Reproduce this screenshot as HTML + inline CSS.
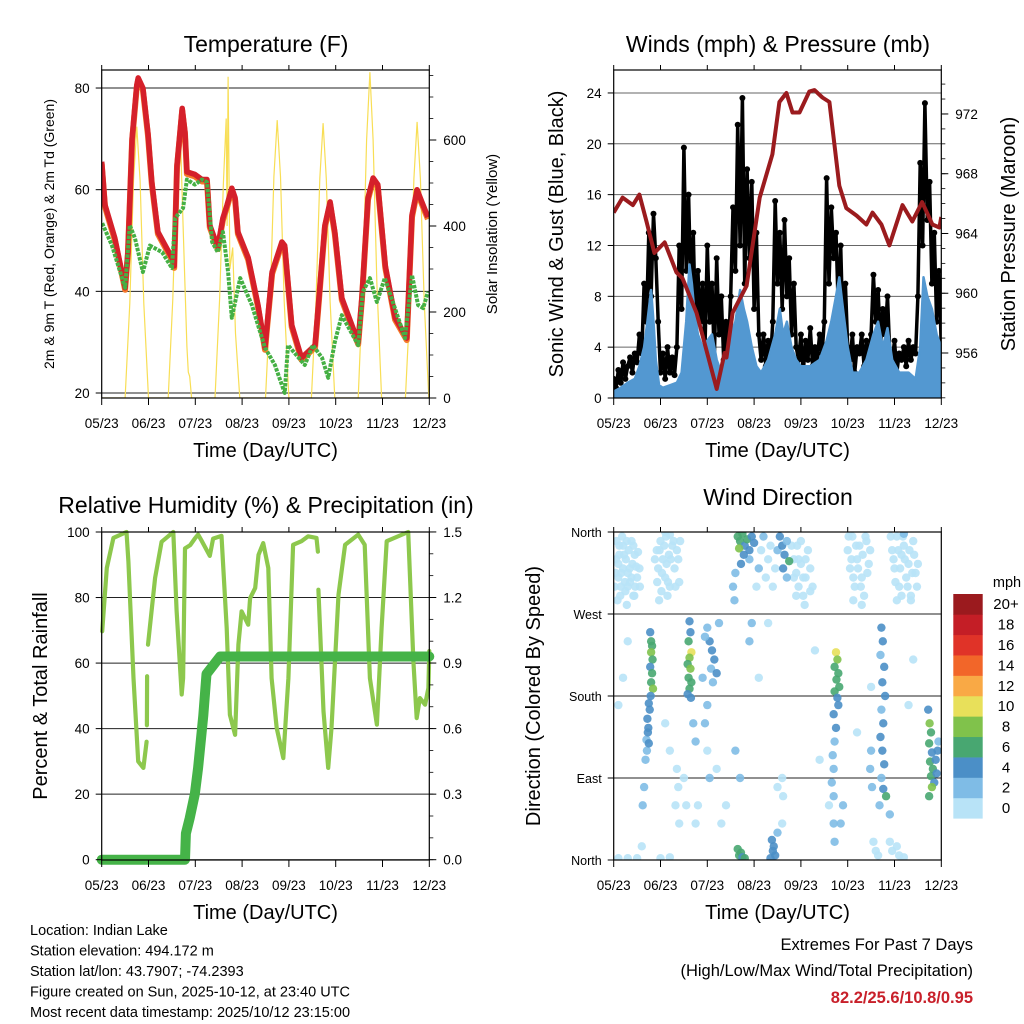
<!DOCTYPE html>
<html>
<head>
<meta charset="utf-8">
<style>
  html,body{margin:0;padding:0;background:#fff;}
  svg{display:block;font-family:"Liberation Sans",Arial,sans-serif;}
  text{fill:#000;}
</style>
</head>
<body>
<svg id="chart" xmlns="http://www.w3.org/2000/svg" width="1024" height="1024" viewBox="0 0 1024 1024">
  <rect x="0" y="0" width="1024" height="1024" fill="#fff"/>
</svg>
<script>
// ---------- shared axis labels ----------
const monthLabels = ['05/23','06/23','07/23','08/23','09/23','10/23','11/23','12/23'];

// ---------- Temperature panel data (t in months since 05/23) ----------
const tempT = [0,0.07,0.28,0.50,0.56,0.65,0.75,0.78,0.88,0.99,1.07,1.20,1.50,1.55,1.61,1.72,1.78,1.82,1.99,2.14,2.25,2.31,2.48,2.59,2.68,2.78,2.85,2.91,3.13,3.34,3.49,3.64,3.85,3.91,4.06,4.27,4.56,4.77,4.88,4.98,5.13,5.48,5.56,5.69,5.80,5.90,6.06,6.27,6.52,6.63,6.74,6.84,6.97];
const temp2m = [65.5,57,50.5,40.7,47.7,70,80.6,82,80,71,61.5,51.7,46.6,45,64.8,76,71.3,63.5,63,62,62,53,48.7,54.4,57,60.3,58.4,51.7,46.6,37.3,28.9,43.8,49.7,49,33.4,26.9,29.4,53,57.6,51.7,38.7,30,38.7,58.4,62.3,61,45,34.8,30.8,55,60,57.6,54.6];
const dewT = [0.01,0.22,0.50,0.60,0.71,0.88,1.03,1.29,1.50,1.57,1.74,1.82,1.99,2.14,2.25,2.36,2.48,2.59,2.70,2.78,2.96,3.21,3.49,3.70,3.91,3.98,4.34,4.51,4.71,4.84,4.98,5.13,5.48,5.58,5.73,5.88,6.05,6.48,6.63,6.76,6.87,6.97];
const dew2m = [53.4,49,40.7,53,50.5,43.8,49,47.7,44.6,54.4,56.4,62,61,62,61.5,49.7,47.7,51.7,43.8,34.8,42.6,37.3,28.9,25.5,20,29.4,25.5,29.4,26.9,23,30,35.3,29.4,39.9,42.6,37.9,42.6,30.8,43.2,37.3,36.7,39.9];
const solarT = [0,0.50,0.60,0.68,0.75,0.82,0.90,1.00, 1.42,1.52,1.60,1.67,1.74,1.82,1.85,1.88,1.92, 2.42,2.52,2.60,2.66,2.68,2.70,2.74,2.80,2.86,2.95, 3.50,3.60,3.68,3.75,3.82,3.90,4.00, 4.48,4.58,4.66,4.73,4.80,4.88,4.98, 5.48,5.58,5.66,5.73,5.80,5.88,5.98, 6.49,6.59,6.67,6.74,6.81,6.89,6.99];
const solarV = [0,0,220,505,631,505,220,0, 0,230,520,651,400,120,60,50,0, 0,230,500,650,400,747,300,350,150,0, 0,225,515,646,515,225,0, 0,225,510,639,510,225,0, 0,265,600,758,600,265,0, 0,225,510,642,510,225,0];
const tempTicks = [20,40,60,80];
const solarTicks = [0,200,400,600];

// ---------- Winds panel data ----------
const windT = [0,0.15,0.3,0.45,0.55,0.65,0.72,0.8,0.85,0.9,0.97,1.05,1.2,1.35,1.45,1.55,1.62,1.67,1.72,1.8,1.9,2.0,2.1,2.2,2.3,2.4,2.5,2.6,2.7,2.78,2.85,2.95,3.05,3.15,3.3,3.45,3.55,3.62,3.7,3.8,3.9,4.0,4.2,4.4,4.55,4.65,4.75,4.82,4.9,5.0,5.1,5.25,5.4,5.55,5.65,5.75,5.85,5.95,6.1,6.3,6.45,6.55,6.62,6.7,6.8,6.9,7.0];
const windV = [0.5,0.8,1.2,1.5,2.5,4,6,8.5,6,3,1,0.8,1,1.2,2,6,10.5,9,7,5,4,4.5,5,3,2,3,5,6,8.5,7,6,4,2.5,2,3,5,7,5,6,4,3,2.5,2.5,3,4.5,6,8,9.5,7,4,2,2,3,5,6,4,5.5,3,2,2,1.5,4,9.5,8,7,5,4];
const gustV = [1.5,0.8,2.2,1.2,2.8,1.5,2.5,3.2,2,3.5,2.8,
  5,3.5,9,6,13,8,14.5,11,6,
  2,3.5,1.5,4,2,3.2,1.8,
  4,12,7,19.7,10,16,8,13,5,10,6,9,
  4,12,6,9,3,11,5,8,3,6,3.5,
  8,15,10,21.5,12,23.6,9,18,11,17,7,13,5,
  3,5,2.5,4.5,3,
  6,15.5,9,13,7,14,8,11,5,9,4,
  3,5,2,4.5,3,5.5,2.5,4,3,5,3.5,
  6,17.3,9,15,11,13,7,12,5,9,4,
  3,5,2,4,3.5,5,2.5,4.5,3,
  5,9.7,6,8.5,4,7,5,8,3.5,
  3,4.5,2,3.5,3,4,2.5,4.5,3,4,3.5,
  8,18.5,12,23.2,14,17,9,13,6,10,4];
const pressT = [0,0.19,0.41,0.55,0.70,0.87,1.09,1.34,1.47,1.77,2.20,2.37,2.41,2.54,2.84,3.12,3.39,3.54,3.69,3.82,3.97,4.18,4.29,4.46,4.61,4.82,4.97,5.19,5.40,5.53,5.72,5.89,6.17,6.38,6.59,6.81,6.96,7.0];
const pressV = [965.4,966.4,965.9,966.6,964.8,962.7,963.4,961.4,961,958.7,953.6,956,955.7,958.7,960.5,966.4,969.3,972.8,973.4,972.1,972.1,973.5,973.6,973.1,972.8,967.2,965.7,965.2,964.6,965.4,964.6,963.2,965.9,964.8,966.1,964.6,964.4,965.1];
const windTicks = [0,4,8,12,16,20,24];
const pressTicks = [956,960,964,968,972];

// ---------- RH / precip panel data ----------
const rhT = [0.01,0.11,0.25,0.53,0.57,0.68,0.78,0.89,0.96,null,0.965,0.97,null,0.99,1.14,1.28,1.53,1.60,1.71,1.74,1.78,1.89,1.99,2.06,2.14,2.31,2.38,2.56,2.67,2.74,2.85,2.92,2.99,3.13,3.17,3.28,3.35,3.45,3.56,3.63,3.74,3.88,3.99,4.09,4.27,4.41,4.59,4.62,null,4.63,4.74,4.84,4.91,5.06,5.20,5.48,5.62,5.73,5.88,5.98,6.09,6.55,6.66,6.73,6.80,6.91,6.98,7.0];
const rhV = [69.7,89,98.2,100,91,55.4,30,28,36,null,41,56,null,65.6,86,97,100,76,50.4,55.4,95,96,98,99.2,97.2,92.7,98,98.8,70.7,44.2,38.1,65.6,75.8,71.7,79.8,82.9,93,96.6,89,55.4,40.2,31,55.4,96.1,97.2,98.7,98.2,94,null,82.4,45.3,28,40.2,80.9,96.1,99.2,96.1,55.4,41.2,70.7,97.2,100,60.5,43.2,49.3,47.3,52.4,63.7];
const precipT = [0,1.78,1.80,1.88,1.99,2.06,2.17,2.24,2.42,2.53,7.0];
const precipV = [0,0,0.12,0.19,0.30,0.42,0.66,0.85,0.90,0.93,0.93];
const rhTicks = [0,20,40,60,80,100];
const precipTicks = ['0.0','0.3','0.6','0.9','1.2','1.5'];

// ---------- Wind direction panel data: [t, direction deg, speed mph] ----------
const dirObs = [
 [0.05,330,1],[0.1,310,1],[0.12,345,1],[0.15,300,1],[0.2,320,1],[0.22,335,1],[0.25,295,1],[0.3,315,1],[0.32,340,1],[0.35,305,1],[0.4,325,1],[0.42,290,1],[0.45,335,1],[0.5,310,1],[0.55,320,1],[0.18,355,1],[0.08,285,1],[0.38,350,1],[0.28,280,1],
 [0.92,340,1],[0.95,320,1],[1.0,350,1],[1.05,330,1],[1.1,310,1],[1.12,355,1],[1.18,335,1],[1.2,300,1],[1.25,345,1],[1.3,320,1],[1.35,340,1],[1.4,305,1],[1.02,295,1],[1.15,290,1],
 [0.78,250,4],[0.8,240,7],[0.82,235,6],[0.8,228,8],[0.83,220,6],[0.78,212,5],[0.82,205,7],[0.8,195,6],[0.84,188,8],[0.79,180,4],[0.75,172,4],[0.77,165,5],[0.72,155,4],[0.74,145,4],[0.7,132,3],[0.71,120,3],[0.68,110,2],[0.73,140,5],[0.75,128,4],
 [1.62,262,4],[1.64,250,4],[1.6,240,6],[1.66,228,10],[1.62,222,8],[1.58,215,7],[1.64,210,8],[1.6,200,6],[1.66,195,7],[1.62,188,6],[1.58,182,4],[1.65,178,5],
 [2.0,255,3],[2.05,240,4],[2.1,230,4],[2.15,220,4],[2.08,210,3],[2.2,205,4],[2.12,195,3],[1.95,245,2],[2.25,260,2],[1.9,200,2],[2.0,170,2],[1.95,150,2],
 [2.65,355,6],[2.7,350,7],[2.75,358,6],[2.8,345,5],[2.85,352,6],[2.9,340,4],[2.95,355,5],[3.0,348,4],[2.68,342,8],[2.78,335,4],[2.72,325,4],[2.6,315,3],[2.55,300,3],[2.58,285,3],
 [3.55,355,4],[3.6,345,4],[3.65,335,4],[3.7,350,3],[3.62,320,4],[3.7,310,3],[3.75,328,6],
 [3.85,330,1],[3.9,315,1],[3.95,300,1],[4.0,325,1],[4.05,290,1],[4.1,310,1],[4.15,340,1],[4.2,295,1],[3.92,345,1],[4.08,280,1],[3.4,300,1],[3.3,330,1],[3.35,345,1],
 [4.75,228,10],[4.78,220,8],[4.72,212,6],[4.8,205,7],[4.76,198,6],[4.82,190,7],[4.72,185,6],[4.78,178,4],[4.8,170,4],[4.7,160,4],[4.75,145,4],[4.72,130,3],[4.68,115,3],[4.7,100,2],[4.66,85,2],[4.7,70,2],
 [5.72,255,4],[5.75,240,4],[5.7,225,3],[5.78,212,4],[5.74,195,4],[5.8,180,4],[5.72,165,3],[5.76,150,4],[5.7,135,4],[5.74,120,4],[5.78,105,4],[5.72,90,3],[5.76,78,4],[5.82,70,6],[5.68,60,2],
 [5.0,340,1],[5.05,320,1],[5.1,355,1],[5.15,300,1],[5.2,330,1],[5.25,345,1],[5.3,310,1],[5.35,290,1],[5.4,350,1],[5.45,325,1],
 [5.95,340,1],[6.0,320,1],[6.05,355,1],[6.1,300,1],[6.15,335,1],[6.2,345,1],[6.25,310,1],[6.3,325,1],[6.35,290,1],[6.4,350,1],[6.45,315,1],[6.05,285,1],[6.2,358,2],
 [6.72,165,4],[6.75,150,8],[6.78,140,6],[6.74,128,7],[6.8,118,4],[6.76,108,6],[6.82,100,6],[6.78,92,7],[6.85,85,4],[6.9,95,4],[6.88,110,4],[6.8,80,8],[6.74,70,6],[6.92,120,4],[6.94,130,3],
 [2.68,5,6],[2.72,8,7],[2.65,12,6],[2.75,3,4],[2.8,2,6],[3.4,10,4],[3.38,22,4],[3.45,5,4],[3.42,15,4],[3.5,30,3],[3.35,2,4],
 [0.1,2,1],[0.3,2,1],[0.5,2,1],[1.0,2,1],[1.2,3,1],[5.6,10,1],[5.55,20,1],[5.65,5,1],[6.2,3,1],[0.6,15,1],
 [0.2,200,1],[0.3,240,1],[0.1,170,1],[1.1,150,1],[1.2,120,1],[1.5,90,1],[1.55,60,1],[1.8,60,1],[1.75,40,1],[2.2,100,1],[2.4,60,1],[2.3,40,1],[3.1,200,1],[3.3,260,1],[3.5,80,1],[3.6,40,1],[4.3,230,1],[4.6,60,1],[4.4,110,1],[5.5,190,1],[5.2,140,1],[6.3,170,1],[6.4,220,1],[2.6,120,2],[2.7,90,2],[4.9,60,2],[4.85,40,2],[5.9,50,2],[0.65,80,2],[0.62,60,2]
];
const dirObsCalm = [
 [0.02,300,1],[0.06,350,1],[0.1,325,1],[0.14,290,1],[0.16,315,1],[0.2,345,1],[0.24,305,1],[0.26,330,1],[0.3,300,1],[0.34,320,1],[0.38,310,1],[0.42,345,1],[0.46,300,1],[0.48,322,1],[0.52,338,1],[0.56,300,1],[0.04,315,1],[0.12,335,1],[0.28,350,1],[0.44,290,1],
 [0.88,330,1],[0.93,305,1],[0.98,340,1],[1.03,315,1],[1.08,345,1],[1.13,325,1],[1.16,305,1],[1.22,330,1],[1.28,350,1],[1.32,300,1],[1.38,330,1],[1.42,350,1],[1.1,360,1],[1.2,357,1],[0.97,285,1],
 [2.9,330,2],[3.05,300,1],[3.1,320,2],[3.15,340,1],[3.2,355,2],[3.25,310,1],[3.45,320,1],[3.5,340,2],[3.8,345,1],[3.85,310,1],[3.9,290,1],[3.95,330,1],[4.0,350,1],[4.05,310,1],[4.1,330,1],[4.2,320,1],[4.25,300,1],
 [5.02,355,1],[5.08,330,1],[5.12,310,1],[5.18,345,1],[5.22,320,1],[5.28,300,1],[5.32,335,1],[5.38,355,1],[5.42,315,1],[5.48,340,1],[5.12,285,1],[5.3,280,1],
 [5.92,355,1],[5.98,330,1],[6.02,305,1],[6.08,340,1],[6.12,320,1],[6.18,355,1],[6.22,330,1],[6.28,300,1],[6.32,340,1],[6.38,315,1],[6.42,335,1],[6.48,300,1],[6.5,325,1],[6.15,290,1],[6.35,285,1],
 [1.35,100,1],[1.38,80,1],[1.32,60,1],[1.4,40,1],[3.6,90,1],[3.62,70,1],[4.7,40,2],[4.72,20,2],[5.9,20,1],[5.95,10,1],[6.1,5,1],[6.05,15,1],[5.5,120,2],[5.48,100,2],[5.52,80,2],[2.95,260,2],[2.9,240,2],[2.0,120,1],[2.05,90,2],[1.7,150,2],[1.75,130,2]
];
const dirTickLabels = ['North','East','South','West','North'];
const dirTickValues = [0,90,180,270,360];
const speedBinLabels = ['0','2','4','6','8','10','12','14','16','18','20+'];
const speedBinColors = ['#b8e3f7','#7fbce6','#4b8fc7','#48a771','#80c24b','#e8e05a','#f9a945','#f26629','#e03328','#c41e26','#9b1a1e'];

// ---------- rendering ----------
const NS = 'http://www.w3.org/2000/svg';
const svg = document.getElementById('chart');
function mk(tag, attrs, parent){
  const e = document.createElementNS(NS, tag);
  for (const k in attrs) e.setAttribute(k, attrs[k]);
  (parent||svg).appendChild(e);
  return e;
}
function txt(str, x, y, size, anchor, parent, extra){
  const t = mk('text', Object.assign({x:x, y:y, 'font-size':size, 'text-anchor':anchor||'middle'}, extra||{}), parent);
  t.textContent = str;
  return t;
}
const PW = 327.6, PH = 328;
const panels = {
  temp:{x0:101.7, top:70}, wind:{x0:613.7, top:70}, rh:{x0:101.7, top:532}, dir:{x0:613.7, top:532}
};
function xs(p, t){ return p.x0 + t*PW/7; }
const yTemp = v => 393 - (v-20)*5.083;
const ySolar = v => 398 - v*0.43;
const yWind = v => 398 - v*12.71;
const yPress = v => 353 - (v-956)*14.94;
const yRH = v => 859.7 - v*3.277;
const yPrecip = v => 859.7 - v*218.5;
const yDir = v => 860 - v*328/360;

let clipN = 0;
function makeClip(p){
  const defs = mk('defs', {});
  const cp = mk('clipPath', {id:'clip'+(++clipN)}, defs);
  mk('rect', {x:p.x0, y:p.top, width:PW, height:PH}, cp);
  return 'url(#clip'+clipN+')';
}
function pathD(p, T, V, yf){
  let d = '', pen = false;
  for (let i=0;i<T.length;i++){
    if (T[i]===null || V[i]===null){ pen=false; continue; }
    d += (pen?'L':'M') + xs(p,T[i]).toFixed(1) + ' ' + yf(V[i]).toFixed(1) + ' ';
    pen = true;
  }
  return d;
}
function hGrid(p, vals, yf, g, color){
  vals.forEach(v=>{
    const l = mk('line', {x1:p.x0, x2:p.x0+PW, y1:yf(v), y2:yf(v), stroke:color||'#222', 'stroke-width':1}, g);
    
    
  });
}
function frameAndX(p, g){
  const f = mk('rect', {x:p.x0, y:p.top, width:PW, height:PH, fill:'none', stroke:'#000', 'stroke-width':1.2}, g);
  
  
  const bottom = p.top + PH;
  monthLabels.forEach((lab,i)=>{
    const x = xs(p,i);
    mk('line', {x1:x, x2:x, y1:bottom, y2:bottom+7, stroke:'#000', 'stroke-width':1}, g);
    mk('line', {x1:x, x2:x, y1:p.top, y2:p.top-5, stroke:'#000', 'stroke-width':1}, g);
    const t = txt(lab, x, bottom+30, 13.5, 'middle', g);
    
    
  });
  const xt = txt('Time (Day/UTC)', p.x0+PW/2, bottom+59, 20, 'middle', g);
  
  
}
function leftTicks(p, vals, labels, yf, g, size){
  vals.forEach((v,i)=>{
    const y = yf(v);
    mk('line', {x1:p.x0-6, x2:p.x0, y1:y, y2:y, stroke:'#000', 'stroke-width':1}, g);
    const t = txt(labels[i], p.x0-12, y+5, size||13.5, 'end', g);
    
    
  });
}
function rightTicks(p, vals, labels, yf, g, minorStep, minorFrom, minorTo){
  const xr = p.x0+PW;
  if (minorStep){
    for (let v=minorFrom; v<=minorTo+1e-9; v+=minorStep){
      const y = yf(v);
      if (y < p.top-0.5 || y > p.top+PH+0.5) continue;
      mk('line', {x1:xr, x2:xr+4, y1:y, y2:y, stroke:'#000', 'stroke-width':0.8}, g);
    }
  }
  vals.forEach((v,i)=>{
    const y = yf(v);
    mk('line', {x1:xr, x2:xr+7, y1:y, y2:y, stroke:'#000', 'stroke-width':1}, g);
    const t = txt(labels[i], xr+14, y+5, 13.5, 'start', g);
    
    
  });
}
function vTitle(str, x, y, size, g, name){
  const t = txt(str, 0, 0, size, 'middle', g, {transform:'translate('+x+','+y+') rotate(-90)'});
  
  
}
function title(str, x, y, g){
  const t = txt(str, x, y, 23, 'middle', g);
  
  
}

// ===== Panel 1: Temperature =====
(function(){
  const p = panels.temp;
  const g = mk('g', {});
  
  
  hGrid(p, tempTicks, yTemp, g, '#222');
  const clip = makeClip(p);
  const sol = mk('path', {d:pathD(p, solarT, solarV, ySolar), fill:'none', stroke:'#f8de55', 'stroke-width':1.2, 'clip-path':clip}, g);
  
  
  const t9 = mk('path', {d:pathD(p, tempT, temp2m, yTemp), fill:'none', stroke:'#f47b2a', 'stroke-width':6, 'stroke-linejoin':'round', transform:'translate(0,2)', 'clip-path':clip}, g);
  
  
  const t2 = mk('path', {d:pathD(p, tempT, temp2m, yTemp), fill:'none', stroke:'#d5202a', 'stroke-width':5.5, 'stroke-linejoin':'round', 'clip-path':clip}, g);
  
  
  const td = mk('path', {d:pathD(p, dewT, dew2m, yTemp), fill:'none', stroke:'#45b044', 'stroke-width':4, 'stroke-dasharray':'3.5 1.2', 'stroke-linejoin':'round', 'clip-path':clip}, g);
  
  
  frameAndX(p, g);
  leftTicks(p, tempTicks, tempTicks.map(String), yTemp, g);
  rightTicks(p, solarTicks, solarTicks.map(String), ySolar, g, 50, 0, 750);
  title('Temperature (F)', 266, 52, g);
  vTitle('2m & 9m T (Red, Orange) & 2m Td (Green)', 54, 234, 14, g, 'y-axis-title');
  vTitle('Solar Insolation (Yellow)', 497, 234, 15, g, 'y2-axis-title');
})();

// ===== Panel 2: Winds & pressure =====
(function(){
  const p = panels.wind;
  const g = mk('g', {});
  
  
  hGrid(p, windTicks, yWind, g, '#666');
  const clip = makeClip(p);
  const gt = gustV.map((v,i)=>i*0.05);
  const gl = mk('path', {d:pathD(p, gt, gustV, yWind), fill:'none', stroke:'#000', 'stroke-width':3.5, 'stroke-linejoin':'round', 'clip-path':clip}, g);
  
  
  gustV.forEach((v,i)=>{
    const c = mk('circle', {cx:xs(p,gt[i]), cy:yWind(v), r:3, fill:'#000', 'clip-path':clip}, g);
    
    
  });
  let d = pathD(p, windT, windV, yWind);
  d += 'L' + xs(p, windT[windT.length-1]) + ' ' + yWind(0) + ' L' + xs(p, windT[0]) + ' ' + yWind(0) + ' Z';
  const wa = mk('path', {d:d, fill:'#5398d1', stroke:'#5398d1', 'stroke-width':2.5, 'stroke-linejoin':'round', 'clip-path':clip}, g);
  
  
  const pl = mk('path', {d:pathD(p, pressT, pressV, yPress), fill:'none', stroke:'#9b1b1e', 'stroke-width':4, 'stroke-linejoin':'round', 'clip-path':clip}, g);
  
  
  frameAndX(p, g);
  leftTicks(p, windTicks, windTicks.map(String), yWind, g);
  rightTicks(p, pressTicks, pressTicks.map(String), yPress, g, 1, 953, 975);
  title('Winds (mph) & Pressure (mb)', 778, 52, g);
  vTitle('Sonic Wind & Gust (Blue, Black)', 563, 234, 20, g, 'y-axis-title');
  vTitle('Station Pressure (Maroon)', 1015, 234, 20, g, 'y2-axis-title');
})();

// ===== Panel 3: RH & precip =====
(function(){
  const p = panels.rh;
  const g = mk('g', {});
  
  
  hGrid(p, rhTicks, yRH, g, '#222');
  const rl = mk('path', {d:pathD(p, rhT, rhV, yRH), fill:'none', stroke:'#8dc84d', 'stroke-width':4.2, 'stroke-linejoin':'round', 'stroke-linecap':'round'}, g);
  
  
  const pr = mk('path', {d:pathD(p, precipT, precipV, yPrecip), fill:'none', stroke:'#45b348', 'stroke-width':10, 'stroke-linejoin':'round', 'stroke-linecap':'round'}, g);
  
  
  frameAndX(p, g);
  leftTicks(p, rhTicks, rhTicks.map(String), yRH, g);
  rightTicks(p, precipTicks.map(Number), precipTicks, yPrecip, g, 0.1, 0, 1.5);
  title('Relative Humidity (%) & Precipitation (in)', 266, 513, g);
  vTitle('Percent & Total Rainfall', 47, 696, 20, g, 'y-axis-title');
})();

// ===== Panel 4: Wind direction =====
(function(){
  const p = panels.dir;
  const g = mk('g', {});
  
  
  hGrid(p, dirTickValues, yDir, g, '#222');
  const clip = makeClip(p);
  function drawObs(o){
    const bin = Math.min(10, Math.floor(o[2]/2));
    const c = mk('circle', {cx:xs(p,o[0]), cy:yDir(o[1]), r:4.2, fill:speedBinColors[bin], 'fill-opacity':0.9, 'clip-path':clip}, g);
    
    
  }
  dirObsCalm.forEach(drawObs);
  dirObs.filter(o=>o[2]<2).forEach(drawObs);
  dirObs.filter(o=>o[2]>=2).forEach(drawObs);
  frameAndX(p, g);
  leftTicks(p, dirTickValues, dirTickLabels, yDir, g, 12.5);
  title('Wind Direction', 778, 505, g);
  vTitle('Direction (Colored By Speed)', 540, 696, 20, g, 'y-axis-title');
  const cb = mk('g', {});
  
  
  const bh = (818.3-594)/11;
  speedBinColors.forEach((c,i)=>{
    const y = 818.3 - (i+1)*bh;
    const r = mk('rect', {x:953.3, y:y, width:29.4, height:bh+0.3, fill:c}, cb);
    
    
    const t = txt(speedBinLabels[i], 1006, y+bh/2+5, 15, 'middle', cb);
    
    
  });
  const u = txt('mph', 1007, 587, 14.5, 'middle', cb);
  
  
})();

// ===== Footer text =====
(function(){
  const g = mk('g', {});
  
  
  const lines = ['Location: Indian Lake','Station elevation: 494.172 m','Station lat/lon: 43.7907; -74.2393','Figure created on Sun, 2025-10-12, at 23:40 UTC','Most recent data timestamp: 2025/10/12 23:15:00'];
  lines.forEach((s,i)=>{
    const t = txt(s, 30, 935+i*20.5, 14.5, 'start', g);
    
    
  });
  const e = mk('g', {});
  
  
  const a = txt('Extremes For Past 7 Days', 973, 950, 16.5, 'end', e);
  
  
  const b = txt('(High/Low/Max Wind/Total Precipitation)', 973, 976, 16.5, 'end', e);
  
  
  const c = txt('82.2/25.6/10.8/0.95', 973, 1003, 16.5, 'end', e, {'font-weight':'bold', fill:'#c8202a', style:'fill:#c8202a'});
  
  
})();
</script>
</body>
</html>
